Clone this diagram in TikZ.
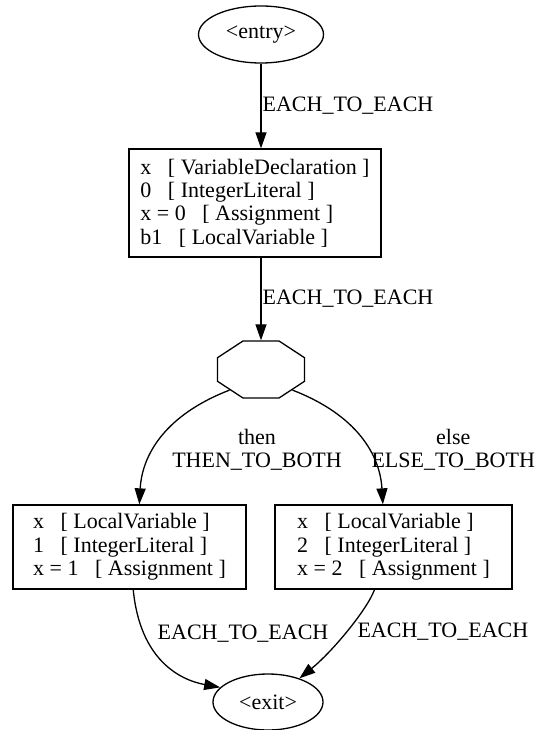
\documentclass[tikz,border=0pt]{standalone}
\usepackage{fontspec}
\setmainfont{Liberation Serif}
\usetikzlibrary{shapes.geometric,arrows.meta}
\newcommand{\fieldgap}{\ \ \ }
\begin{document}
\begin{tikzpicture}[x=1pt,y=-1pt,
    font=\fontsize{22}{23.4}\selectfont,
    line width=1.3pt,
    >={Triangle[length=16pt,width=11pt]},
    oval/.style={draw, ellipse, inner sep=0pt},
    block/.style={draw, rectangle, align=left, inner sep=0pt, minimum height=84pt},
    lbl/.style={anchor=west, inner sep=0pt, align=center}]
                \useasboundingbox (0,0) rectangle (539,730);

                \node[oval, minimum width=125pt, minimum height=57pt] (entry) at (261,34.5) {<entry>};
                \node[block, minimum width=252pt, minimum height=108pt] (decl) at (255,203)
                    {x\fieldgap[ VariableDeclaration ]\\0\fieldgap[ IntegerLiteral ]\\x = 0\fieldgap[ Assignment ]\\b1\fieldgap[ LocalVariable ]};
                \draw[->] (entry.south) -- node[lbl, midway, xshift=1pt]{EACH\_TO\_EACH} (entry.south |- decl.north);

                \node[draw, regular polygon, regular polygon sides=8, minimum size=61.7pt, inner sep=0pt,
                      xscale=1.526, transform shape] (cond) at (261,369.5) {};
                \draw[->] (cond.north |- decl.south) -- node[lbl, midway, xshift=1pt]{EACH\_TO\_EACH} (cond.north);

                \node[block, minimum width=233pt] (then) at (129.5,547)
                    {x\fieldgap[ LocalVariable ]\\1\fieldgap[ IntegerLiteral ]\\x = 1\fieldgap[ Assignment ]};
                \node[block, minimum width=237pt] (else) at (393.5,547)
                    {x\fieldgap[ LocalVariable ]\\2\fieldgap[ IntegerLiteral ]\\x = 2\fieldgap[ Assignment ]};
                \draw[->] (cond.225) .. controls (165,415) and (142,455) .. node[lbl, pos=0.6, xshift=18pt]{then\\THEN\_TO\_BOTH} (then.77);
                \draw[->] (cond.315) .. controls (357,415) and (380,455) .. node[lbl, pos=0.6, xshift=2.5pt]{else\\ELSE\_TO\_BOTH} (else.104);

                \node[oval, minimum width=110pt, minimum height=56pt] (exit) at (268,702) {<exit>};
                \draw[->] (then.-85) .. controls (140,660) and (180,680) .. node[lbl, pos=0.25, xshift=13pt]{EACH\_TO\_EACH} (exit.163);
                \draw[->] (else.-114) .. controls (367,610) and (332,652) .. node[lbl, pos=0.5, xshift=10.5pt]{EACH\_TO\_EACH} (exit.37);
            \end{tikzpicture}
\end{document}
